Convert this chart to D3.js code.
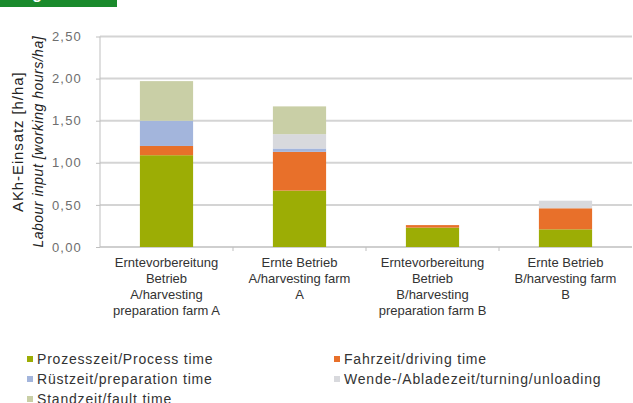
<!DOCTYPE html>
<html><head><meta charset="utf-8">
<script src="https://cdn.jsdelivr.net/npm/d3@7"></script>
<style>body{margin:0;background:#fff}svg{display:block}text{font-family:"Liberation Sans",Arial,sans-serif}</style>
</head><body>
<svg id="c" width="633" height="403"></svg>
<script>
const categories = [
  ["Erntevorbereitung","Betrieb","A/harvesting","preparation farm A"],
  ["Ernte Betrieb","A/harvesting farm","A"],
  ["Erntevorbereitung","Betrieb","B/harvesting","preparation farm B"],
  ["Ernte Betrieb","B/harvesting farm","B"]
];
const seriesNames = ["Prozesszeit/Process time","Fahrzeit/driving time","Rüstzeit/preparation time","Wende-/Abladezeit/turning/unloading","Standzeit/fault time"];
const processTime   = [1.09, 0.67, 0.23, 0.21];
const drivingTime   = [0.11, 0.46, 0.03, 0.25];
const prepTime      = [0.30, 0.04, 0.00, 0.00];
const turningTime   = [0.00, 0.17, 0.00, 0.09];
const faultTime     = [0.47, 0.33, 0.00, 0.00];
const yTicks = [0, 0.5, 1.0, 1.5, 2.0, 2.5];
const colors = ["#9cad05","#e8702a","#a3b5dc","#d8d9dd","#c9cfa6"];

const svg = d3.select("#c");
const m = {l:100, r:632, t:36.5, b:247};
const x = d3.scaleBand().domain(d3.range(categories.length)).range([m.l, m.r]).paddingInner(0.6).paddingOuter(0.3);
const y = d3.scaleLinear().domain([0, 2.5]).range([m.b, m.t]);

// banner
svg.append("rect").attr("x",0).attr("y",0).attr("width",117).attr("height",7).attr("fill","#1a8a2c");
svg.append("text").attr("x",18).attr("y",-1).attr("fill","#fff").attr("font-size",16).attr("font-weight","bold").text("Fig");

// grid
svg.append("g").selectAll("line").data(yTicks.slice(1)).join("line")
  .attr("x1",m.l).attr("x2",m.r).attr("y1",d=>y(d)).attr("y2",d=>y(d))
  .attr("stroke","#d4d4d4").attr("stroke-width",2);

// y axis
const ya = svg.append("g").attr("transform",`translate(${m.l},0)`)
  .call(d3.axisLeft(y).tickValues(yTicks).tickSize(4).tickPadding(14).tickFormat(d=>d3.format(".2f")(d).replace(".",",")));
ya.select(".domain").attr("stroke","#bfbfbf").attr("d",`M0,${m.t}V${m.b}`);
ya.selectAll(".tick line").attr("stroke","#bfbfbf");
ya.selectAll(".tick text").attr("fill","#6e6e6e").attr("font-size",13).style("letter-spacing","1.2px");

// x axis
const step = x.step();
svg.append("line").attr("x1",m.l).attr("x2",m.r).attr("y1",m.b).attr("y2",m.b).attr("stroke","#bfbfbf").attr("stroke-width",1.5);
svg.append("g").selectAll("line").data(d3.range(1,categories.length)).join("line")
  .attr("x1",d=>m.l+d*step).attr("x2",d=>m.l+d*step).attr("y1",m.b).attr("y2",m.b+4).attr("stroke","#bfbfbf");

// stacks
const table = categories.map((c,i)=>({i, s0:processTime[i], s1:drivingTime[i], s2:prepTime[i], s3:turningTime[i], s4:faultTime[i]}));
const stack = d3.stack().keys(["s0","s1","s2","s3","s4"])(table);
svg.append("g").selectAll("g").data(stack).join("g").attr("fill",(d,k)=>colors[k])
  .selectAll("rect").data(d=>d).join("rect")
  .attr("x",d=>x(d.data.i)).attr("width",x.bandwidth())
  .attr("y",d=>y(d[1])).attr("height",d=>Math.max(0,y(d[0])-y(d[1])));

// category labels
const cl = svg.append("g").selectAll("text").data(categories).join("text")
  .attr("x",(d,i)=>x(i)+x.bandwidth()/2).attr("y",267).attr("text-anchor","middle")
  .attr("font-size",13).attr("fill","#333");
cl.selectAll("tspan").data(d=>d).join("tspan").attr("x",function(){return this.parentNode.getAttribute("x");})
  .attr("dy",(d,j)=>j===0?0:16).text(d=>d);

// y title
const yt = svg.append("text").attr("transform",`translate(23,${(m.t+m.b)/2}) rotate(-90)`).attr("text-anchor","middle").attr("fill","#222");
yt.append("tspan").attr("x",0).attr("dy",0).attr("font-size",15).style("letter-spacing","0.9px").text("AKh-Einsatz [h/ha]");
yt.append("tspan").attr("x",0).attr("dy",20).attr("font-size",14).attr("font-style","italic").style("letter-spacing","0.5px").text("Labour input [working hours/ha]");

// legend
const legPos = [[27,359],[334,359],[27,379],[334,379],[27,399]];
const lg = svg.append("g").selectAll("g").data(seriesNames).join("g")
  .attr("transform",(d,i)=>`translate(${legPos[i][0]},${legPos[i][1]})`);
lg.append("rect").attr("x",0).attr("y",-3).attr("width",6).attr("height",6).attr("fill",(d,i)=>colors[i]);
lg.append("text").attr("x",10).attr("y",5).attr("font-size",14).attr("fill","#333").style("letter-spacing","0.8px").text(d=>d);
</script>
</body></html>
